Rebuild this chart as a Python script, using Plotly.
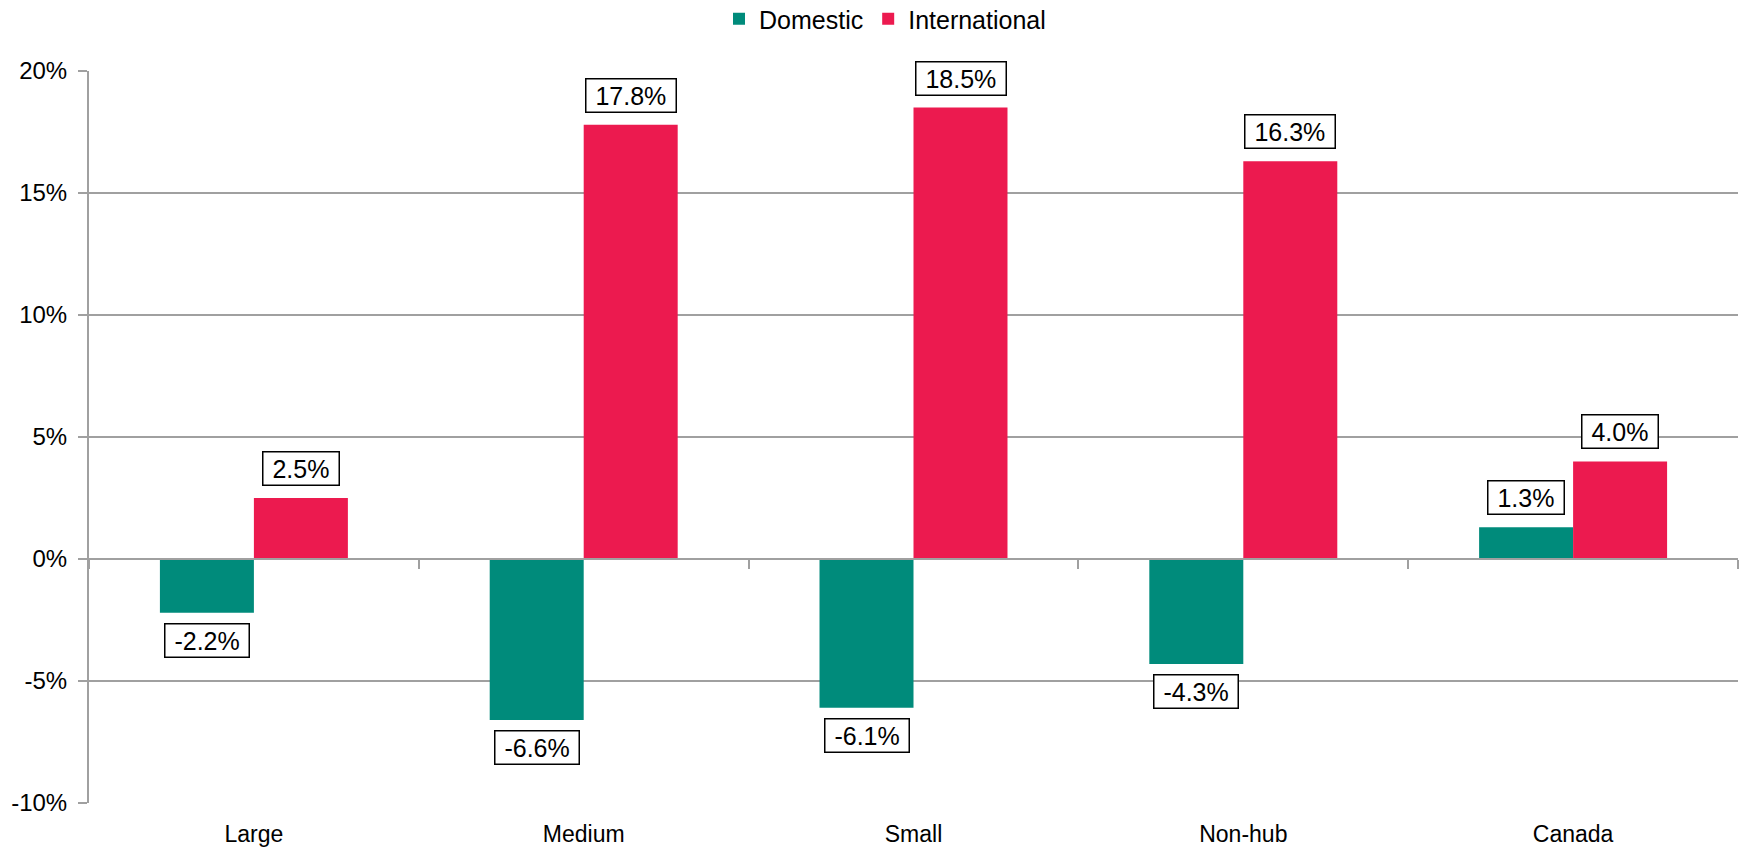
import plotly.graph_objects as go

categories = ["Large", "Medium", "Small", "Non-hub", "Canada"]
domestic = [-2.2, -6.6, -6.1, -4.3, 1.3]
international = [2.5, 17.8, 18.5, 16.3, 4.0]
series_names = ["Domestic", "International"]
colors = ["#008B7B", "#EC1A4F"]
tick_vals = [-10, -5, 0, 5, 10, 15, 20]
tick_text = ["-10%", "-5%", "0%", "5%", "10%", "15%", "20%"]

FONT = "Liberation Sans, Arial, sans-serif"
BARGAP = 0.43

fig = go.Figure()
for name, vals, col in zip(series_names, [domestic, international], colors):
    fig.add_trace(go.Bar(x=categories, y=vals, name=name, marker_color=col,
                         marker_line_width=0))

# invisible trace so the zero-line axis (category boundary ticks) renders
fig.add_trace(go.Scatter(x=categories, y=[0]*len(categories), xaxis="x2",
                         mode="markers", marker_opacity=0, showlegend=False,
                         hoverinfo="skip"))

bar_w = (1 - BARGAP) / 2
for si, vals in enumerate([domestic, international]):
    off = (si - 0.5) * bar_w
    for i, v in enumerate(vals):
        pos = v >= 0
        fig.add_annotation(x=i + off, y=v, xref="x", yref="y",
                           text=f"\u00a0{v:.1f}%\u00a0", showarrow=False,
                           yanchor="bottom" if pos else "top",
                           yshift=12 if pos else -10,
                           font=dict(family=FONT, size=25, color="black"),
                           bgcolor="white", bordercolor="black", borderwidth=1.5,
                           borderpad=2)

fig.update_layout(
    width=1741, height=850,
    margin=dict(l=89, r=3, t=71, b=47, autoexpand=False),
    paper_bgcolor="white", plot_bgcolor="white",
    barmode="group", bargap=BARGAP, bargroupgap=0,
    font=dict(family=FONT, size=23, color="black"),
    legend=dict(orientation="h", xref="container", x=885/1741, xanchor="center",
                yref="container", y=1 - 19/850, yanchor="middle",
                font=dict(size=25), itemwidth=30, traceorder="normal"),
    xaxis=dict(type="category", range=[-0.5, 4.5], showgrid=False, showline=False,
               ticks="", tickfont=dict(size=23), ticklabelstandoff=15,
               automargin=False),
    xaxis2=dict(type="category", range=[-0.5, 4.5], overlaying="x", anchor="free",
                position=1/3, showline=True, linecolor="#A0A0A0", linewidth=2,
                ticks="outside", tickson="boundaries", ticklen=9, tickcolor="#A0A0A0",
                tickwidth=1.5, showticklabels=False, showgrid=False, matches="x",
                automargin=False),
    yaxis=dict(range=[-10, 20], tickvals=tick_vals, ticktext=tick_text,
               showgrid=True, gridcolor="#A0A0A0", gridwidth=1.5,
               zeroline=True, zerolinecolor="#A0A0A0", zerolinewidth=2,
               showline=True, linecolor="#A0A0A0", linewidth=2,
               ticks="outside", ticklen=9, tickcolor="#A0A0A0", tickwidth=1.5,
               tickfont=dict(size=24), ticklabelstandoff=6, automargin=False),
)

fig.write_html("out.html")
